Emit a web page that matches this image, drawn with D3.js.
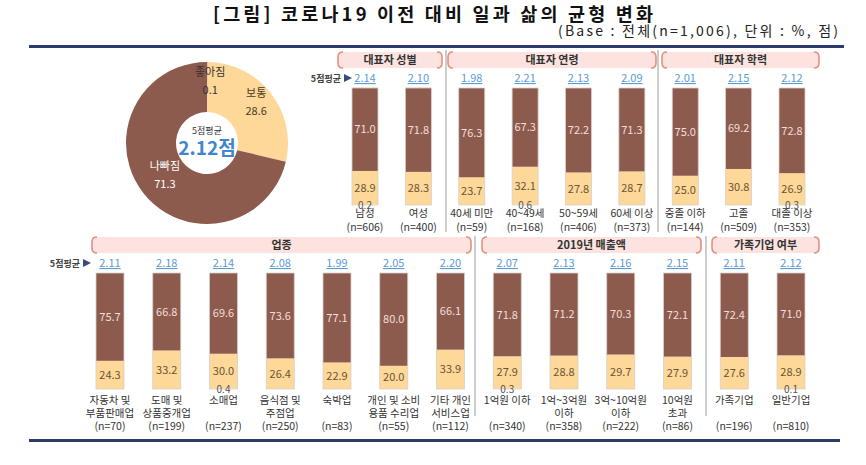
<!DOCTYPE html>
<html><head><meta charset="utf-8">
<script src="https://cdn.jsdelivr.net/npm/d3@7"></script>
<style>
body{margin:0;background:#fff;}
text{font-family:"Noto Sans CJK KR","Noto Sans",sans-serif;}
</style></head>
<body><svg id="c" width="866" height="465"></svg>
<script>
// ---- data ----
const title = "[그림] 코로나19 이전 대비 일과 삶의 균형 변화";
const subtitle = "(Base : 전체(n=1,006), 단위 : %, 점)";
const donutLabels = ["좋아짐", "보통", "나빠짐"];
const donutValues = [0.1, 28.6, 71.3];
const overallAvg = "2.12점";

const topGroups = [
  {name:"대표자 성별", n:2}, {name:"대표자 연령", n:4}, {name:"대표자 학력", n:3}
];
const topCats = [["남성"],["여성"],["40세 미만"],["40~49세"],["50~59세"],["60세 이상"],["중졸 이하"],["고졸"],["대졸 이상"]];
const topN = [606,400,59,168,406,373,144,509,353];
const topNeutral = [28.9,28.3,23.7,32.1,27.8,28.7,25.0,30.8,26.9];
const topWorse = [71.0,71.8,76.3,67.3,72.2,71.3,75.0,69.2,72.8];
const topBetter = [0.2,0,0,0.6,0,0,0,0,0.3];
const topAvg = ["2.14","2.10","1.98","2.21","2.13","2.09","2.01","2.15","2.12"];

const botGroups = [
  {name:"업종", n:7}, {name:"2019년 매출액", n:4}, {name:"가족기업 여부", n:2}
];
const botCats = [["자동차 및","부품판매업"],["도매 및","상품중개업"],["소매업",""],["음식점 및","주점업"],["숙박업",""],["개인 및 소비","용품 수리업"],["기타 개인","서비스업"],["1억원 이하",""],["1억~3억원","이하"],["3억~10억원","이하"],["10억원","초과"],["가족기업",""],["일반기업",""]];
const botN = [70,199,237,250,83,55,112,340,358,222,86,196,810];
const botNeutral = [24.3,33.2,30.0,26.4,22.9,20.0,33.9,27.9,28.8,29.7,27.9,27.6,28.9];
const botWorse = [75.7,66.8,69.6,73.6,77.1,80.0,66.1,71.8,71.2,70.3,72.1,72.4,71.0];
const botBetter = [0,0,0.4,0,0,0,0,0.3,0,0,0,0,0.1];
const botAvg = ["2.11","2.18","2.14","2.08","1.99","2.05","2.20","2.07","2.13","2.16","2.15","2.11","2.12"];

// ---- style ----
const BROWN = "#8d5a4e", YELLOW = "#fdd898", NAVY = "#2c3b69";
const svg = d3.select("#c");

svg.append("text").attr("x",433).attr("y",21).attr("text-anchor","middle")
  .attr("font-size",18.5).attr("font-weight","bold").attr("fill","#111")
  .attr("textLength",440).attr("lengthAdjust","spacing").text(title);
svg.append("text").attr("x",838).attr("y",36).attr("text-anchor","end")
  .attr("font-size",14).attr("fill","#222")
  .attr("textLength",280).attr("lengthAdjust","spacing").text(subtitle);

svg.append("rect").attr("x",29).attr("y",45).attr("width",815).attr("height",3).attr("fill",NAVY);
svg.append("rect").attr("x",29).attr("y",439).attr("width",811).attr("height",3).attr("fill",NAVY);

// ---- donut ----
const dg = svg.append("g").attr("transform","translate(207,143)");
const pie = d3.pie().sort(null).value(d=>d)(donutValues);
const arc = d3.arc().innerRadius(31).outerRadius(81);
const donutColors = [BROWN, YELLOW, BROWN];
dg.selectAll("path").data(pie).join("path").attr("d",arc).attr("fill",(d,i)=>donutColors[i]);
const labelArc = d3.arc().innerRadius(60).outerRadius(60);
const donutText = ["#333","#4a3a28","#fff"];
pie.forEach((d,i)=>{
  const [cx,cy] = labelArc.centroid(d);
  const adj = i===2 ? [5,-5] : (i===0 ? [3,-2] : [2,-4]);
  const g = dg.append("g").attr("transform",`translate(${cx+adj[0]},${cy+adj[1]})`);
  g.append("text").attr("y",-5).attr("text-anchor","middle").attr("font-size",11).attr("fill",donutText[i]).text(donutLabels[i]);
  g.append("text").attr("y",13).attr("text-anchor","middle").attr("font-size",11).attr("fill",donutText[i]).text(donutValues[i].toFixed(1));
});
dg.append("text").attr("y",-9).attr("text-anchor","middle").attr("font-size",9).attr("fill","#333").text("5점평균");
dg.append("text").attr("y",12).attr("text-anchor","middle").attr("font-size",19).attr("font-weight","bold").attr("fill","#3f86cc").text(overallAvg);

// ---- bar rows ----
function header(x0,x1,y,h,label){
  const g = svg.append("g");
  g.append("rect").attr("x",x0).attr("y",y).attr("width",x1-x0).attr("height",h).attr("fill","#fce3df").attr("rx",3);
  const c="#e3907f";
  g.append("path").attr("d",`M${x0+5},${y} Q${x0},${y} ${x0},${y+5} L${x0},${y+h-5} Q${x0},${y+h} ${x0+5},${y+h}`).attr("fill","none").attr("stroke",c).attr("stroke-width",1.6);
  g.append("path").attr("d",`M${x1-5},${y} Q${x1},${y} ${x1},${y+5} L${x1},${y+h-5} Q${x1},${y+h} ${x1-5},${y+h}`).attr("fill","none").attr("stroke",c).attr("stroke-width",1.6);
  g.append("text").attr("x",(x0+x1)/2).attr("y",y+h/2+4).attr("text-anchor","middle").attr("font-size",11).attr("font-weight","bold").attr("fill","#333").text(label);
}

function row(cfg){
  const {cats,nArr,neutral,worse,better,avg,groups,xr,yr,bw,avgY,labY,lineH,hdrY,hdrs,seps,sepY,avgLabelX} = cfg;
  const idx = cats.map((d,i)=>i);
  const x = d3.scalePoint().domain(idx).range(xr);
  const y = d3.scaleLinear().domain([0,100]).range(yr);
  const data = idx.map(i=>({i,better:better[i],neutral:neutral[i],worse:worse[i]}));
  const stack = d3.stack().keys(["better","neutral","worse"])(data);
  const colors = {better:YELLOW, neutral:YELLOW, worse:BROWN};
  const g = svg.append("g");
  stack.forEach(layer=>{
    g.selectAll(null).data(layer).join("rect")
      .attr("x",d=>x(d.data.i)-bw/2).attr("width",bw)
      .attr("y",d=>y(d[1])).attr("height",d=>Math.max(0,y(d[0])-y(d[1])))
      .attr("fill",colors[layer.key]);
  });
  g.selectAll(null).data(data).join("rect")
    .attr("x",d=>x(d.i)-bw/2).attr("width",bw).attr("y",y(100)).attr("height",y(0)-y(100))
    .attr("fill","none").attr("stroke","#d8cfc8").attr("stroke-width",0.8);
  // labels
  const nl = stack[1], wl = stack[2];
  g.selectAll(null).data(nl).join("text")
    .attr("x",d=>x(d.data.i)).attr("y",d=>(y(d[0])+y(d[1]))/2+4).attr("text-anchor","middle")
    .attr("font-size",11).attr("fill","#6b5334").text(d=>d.data.neutral.toFixed(1));
  g.selectAll(null).data(wl).join("text")
    .attr("x",d=>x(d.data.i)).attr("y",d=>(y(d[0])+y(d[1]))/2+4).attr("text-anchor","middle")
    .attr("font-size",11).attr("fill","#f3dfd9").text(d=>d.data.worse.toFixed(1));
  g.selectAll(null).data(data.filter(d=>d.better>0)).join("text")
    .attr("x",d=>x(d.i)).attr("y",y(0)+4).attr("text-anchor","middle")
    .attr("font-size",10).attr("fill","#555").text(d=>d.better.toFixed(1));
  // avg
  g.selectAll(null).data(idx).join("text")
    .attr("x",i=>x(i)).attr("y",avgY).attr("text-anchor","middle")
    .attr("font-size",11).attr("fill","#5b9bd5").style("text-decoration","underline").text(i=>avg[i]);
  g.append("text").attr("x",avgLabelX).attr("y",avgY).attr("text-anchor","end")
    .attr("font-size",9).attr("font-weight","bold").attr("fill","#444").text("5점평균");
  g.append("path").attr("d",`M${avgLabelX+3},${avgY-8} L${avgLabelX+11},${avgY-4} L${avgLabelX+3},${avgY}Z`).attr("fill","#3a4b7a");
  // category labels
  idx.forEach(i=>{
    const lines = cats[i];
    lines.forEach((t,k)=>{
      if(!t) return;
      g.append("text").attr("x",x(i)).attr("y",labY+k*lineH).attr("text-anchor","middle")
        .attr("font-size",10.5).attr("fill","#333").text(t);
    });
    g.append("text").attr("x",x(i)).attr("y",labY+lines.length*lineH).attr("text-anchor","middle")
      .attr("font-size",10.5).attr("fill","#333").text(`(n=${nArr[i]})`);
  });
  hdrs.forEach((h,k)=>header(h[0],h[1],hdrY,16,groups[k].name));
  seps.forEach(sx=>svg.append("line").attr("x1",sx).attr("x2",sx).attr("y1",sepY[0]).attr("y2",sepY[1]).attr("stroke","#bdbdbd").attr("stroke-width",1.5));
}

row({cats:topCats,nArr:topN,neutral:topNeutral,worse:topWorse,better:topBetter,avg:topAvg,groups:topGroups,
  xr:[365,792],yr:[205,88],bw:26,avgY:82,labY:217,lineH:14,hdrY:52,
  hdrs:[[338,442],[448,656],[662,819]],seps:[446,658],sepY:[50,232],avgLabelX:341});
row({cats:botCats,nArr:botN,neutral:botNeutral,worse:botWorse,better:botBetter,avg:botAvg,groups:botGroups,
  xr:[110,791],yr:[389,273],bw:28,avgY:267,labY:404,lineH:13,hdrY:237,
  hdrs:[[92,471],[482,701],[712,819]],seps:[475,706],sepY:[236,416],avgLabelX:80});
</script></body></html>
